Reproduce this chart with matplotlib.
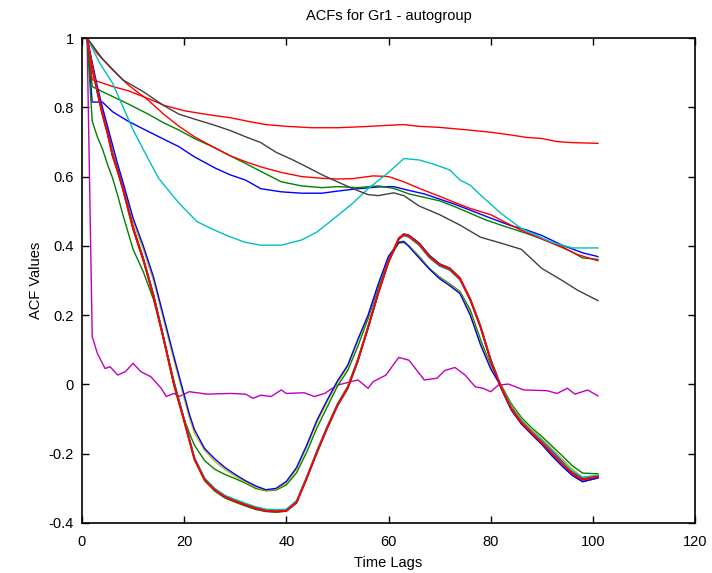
import matplotlib
matplotlib.use("Agg")
import matplotlib.pyplot as plt

plt.rcParams['font.family'] = ['Liberation Sans', 'DejaVu Sans']

# MATLAB classic colour order
C_BLUE = (0, 0, 1)
C_GREEN = (0, 0.5, 0)
C_RED = (1, 0, 0)
C_CYAN = (0, 0.75, 0.75)
C_MAG = (0.75, 0, 0.75)
C_YEL = (0.75, 0.75, 0)
C_GRAY = (0.25, 0.25, 0.25)

title = "ACFs for Gr1 - autogroup"
xlabel = "Time Lags"
ylabel = "ACF Values"
xticks = [0, 20, 40, 60, 80, 100, 120]
yticks = [-0.4, -0.2, 0, 0.2, 0.4, 0.6, 0.8, 1]
ytick_labels = ["-0.4", "-0.2", "0", "0.2", "0.4", "0.6", "0.8", "1"]

# ---- slowly decaying series ----
red_slow_x = [1, 2, 4, 6, 9, 13, 16, 20, 25, 29, 33, 36, 40, 45, 50, 55, 60, 63, 66, 70, 76, 80, 84, 87, 90, 93, 96, 101]
red_slow_y = [1.0, 0.88, 0.87, 0.86, 0.848, 0.825, 0.806, 0.79, 0.778, 0.77, 0.758, 0.75, 0.745, 0.741, 0.741, 0.744,
              0.748, 0.75, 0.745, 0.742, 0.734, 0.728, 0.72, 0.713, 0.71, 0.701, 0.698, 0.696]

red_mid_x = [1, 3, 6, 9, 13, 16, 19, 22, 26, 29, 32, 35, 39, 43, 47, 50, 53, 57, 60, 63, 66, 70, 73, 76, 80, 83, 86, 90, 94, 97, 101]
red_mid_y = [1.0, 0.955, 0.908, 0.865, 0.82, 0.78, 0.745, 0.715, 0.683, 0.66, 0.643, 0.628, 0.612, 0.6, 0.595, 0.593,
             0.594, 0.602, 0.6, 0.585, 0.566, 0.543, 0.525, 0.508, 0.49, 0.467, 0.445, 0.42, 0.395, 0.375, 0.357]

gray_x = [1, 4, 8, 12, 16, 19, 22, 26, 29, 32, 35, 38, 41, 44, 47, 50, 53, 56, 58, 61, 63, 66, 70, 74, 78, 82, 86, 90, 94, 97, 101]
gray_y = [1.0, 0.94, 0.879, 0.845, 0.805, 0.78, 0.766, 0.748, 0.733, 0.715, 0.698, 0.67, 0.65, 0.628, 0.605, 0.585,
          0.565, 0.548, 0.545, 0.553, 0.545, 0.515, 0.49, 0.46, 0.425, 0.408, 0.39, 0.335, 0.3, 0.272, 0.242]

green_slow_x = [1, 2, 4, 6, 9, 13, 16, 19, 22, 26, 29, 32, 35, 39, 43, 47, 50, 54, 58, 61, 64, 67, 70, 73, 76, 79, 83, 87, 90, 94, 98, 101]
green_slow_y = [1.0, 0.86, 0.845, 0.831, 0.81, 0.78, 0.755, 0.734, 0.71, 0.683, 0.66, 0.638, 0.615, 0.585, 0.573, 0.568,
                0.571, 0.568, 0.573, 0.566, 0.55, 0.54, 0.53, 0.513, 0.494, 0.475, 0.455, 0.436, 0.42, 0.398, 0.365, 0.361]

blue_slow_x = [1, 2, 4, 6, 9, 13, 16, 19, 22, 26, 29, 32, 35, 39, 43, 47, 50, 54, 58, 61, 64, 67, 70, 73, 76, 80, 84, 87, 90, 94, 98, 101]
blue_slow_y = [1.0, 0.815, 0.815, 0.787, 0.76, 0.73, 0.708, 0.686, 0.657, 0.625, 0.605, 0.59, 0.565, 0.556, 0.552, 0.552,
               0.558, 0.565, 0.57, 0.571, 0.56, 0.55, 0.535, 0.52, 0.503, 0.48, 0.458, 0.446, 0.43, 0.402, 0.38, 0.369]

cyan_slow_x = [1, 3.5, 6, 8, 10, 13, 15, 19, 22.5, 26, 29, 32, 35, 39, 43, 46, 49, 53, 56, 60, 63, 66, 69, 72, 74, 76, 78,
               82, 86, 89, 92, 96, 98, 101]
cyan_slow_y = [1.0, 0.927, 0.869, 0.802, 0.735, 0.65, 0.595, 0.523, 0.47, 0.445, 0.426, 0.41, 0.402, 0.402, 0.417, 0.44,
               0.475, 0.523, 0.565, 0.612, 0.652, 0.648, 0.635, 0.619, 0.59, 0.575, 0.547, 0.494, 0.45, 0.43, 0.41,
               0.394, 0.394, 0.394]

magenta_x = [1, 2, 3, 4.5, 5.5, 7, 8.5, 10, 11.5, 13.5, 15.5, 16.5, 18, 19, 21, 24.5, 29, 32, 33.5, 35, 37, 39, 40, 43.5,
             45.5, 47.5, 50, 54, 56, 57, 59.5, 62, 64, 67, 69.5, 71, 73, 75, 77, 78.5, 80, 81.5, 83.5, 86.5, 91, 93, 95,
             96.5, 99, 101]
magenta_y = [1.0, 0.138, 0.09, 0.046, 0.051, 0.027, 0.037, 0.061, 0.037, 0.022, -0.011, -0.035, -0.026, -0.035, -0.021,
             -0.028, -0.026, -0.028, -0.04, -0.031, -0.035, -0.016, -0.026, -0.024, -0.035, -0.026, -0.002, 0.013,
             -0.011, 0.008, 0.027, 0.078, 0.07, 0.013, 0.018, 0.04, 0.049, 0.027, -0.007, -0.011, -0.021, -0.002,
             0.001, -0.016, -0.018, -0.026, -0.011, -0.028, -0.016, -0.033]

# ---- oscillating series (shared lag grid) ----
osc_x = [1, 2, 3, 4, 5, 6, 7, 8, 10, 12, 14, 16, 18, 20, 21, 22, 24, 26, 28, 30, 32, 34, 36, 38, 40, 42, 44, 46, 48, 50,
         52, 54, 56, 58, 60, 62, 63, 64, 66, 68, 70, 72, 74, 76, 78, 80, 82, 84, 86, 88, 90, 92, 94, 96, 98, 101]

blue_osc1 = [1.0, 0.93, 0.86, 0.8, 0.745, 0.69, 0.635, 0.585, 0.48, 0.4, 0.31, 0.195, 0.08, -0.03, -0.085, -0.13, -0.185,
             -0.215, -0.24, -0.26, -0.278, -0.293, -0.304, -0.3, -0.28, -0.24, -0.175, -0.103, -0.045, 0.01, 0.055,
             0.13, 0.2, 0.29, 0.37, 0.41, 0.412, 0.398, 0.365, 0.333, 0.305, 0.285, 0.262, 0.2, 0.115, 0.045, -0.005,
             -0.065, -0.105, -0.135, -0.162, -0.192, -0.222, -0.252, -0.275, -0.267]
yellow_osc1 = [1.0, 0.92, 0.85, 0.79, 0.735, 0.68, 0.625, 0.575, 0.47, 0.39, 0.3, 0.185, 0.07, -0.04, -0.095, -0.14, -0.19,
               -0.222, -0.246, -0.265, -0.282, -0.296, -0.306, -0.303, -0.284, -0.245, -0.18, -0.11, -0.05, 0.005,
               0.05, 0.125, 0.198, 0.288, 0.368, 0.412, 0.414, 0.4, 0.368, 0.334, 0.307, 0.288, 0.265, 0.205, 0.12,
               0.05, -0.003, -0.06, -0.1, -0.13, -0.157, -0.186, -0.215, -0.245, -0.268, -0.263]
green_osc1 = [1.0, 0.76, 0.715, 0.68, 0.635, 0.595, 0.545, 0.49, 0.39, 0.325, 0.245, 0.13, 0.01, -0.1, -0.14, -0.175, -0.22,
              -0.245, -0.26, -0.272, -0.285, -0.3, -0.307, -0.305, -0.29, -0.255, -0.195, -0.125, -0.065, -0.005, 0.04,
              0.11, 0.19, 0.28, 0.36, 0.408, 0.41, 0.4, 0.37, 0.335, 0.31, 0.29, 0.268, 0.215, 0.13, 0.055, 0.0,
              -0.055, -0.095, -0.125, -0.15, -0.178, -0.206, -0.235, -0.256, -0.258]

cyan_osc2 = [1.0, 0.915, 0.846, 0.782, 0.727, 0.662, 0.617, 0.567, 0.452, 0.362, 0.257, 0.132, 0.003, -0.1, -0.155, -0.21,
             -0.27, -0.3, -0.32, -0.332, -0.343, -0.353, -0.36, -0.362, -0.36, -0.335, -0.265, -0.19, -0.12, -0.055,
             -0.005, 0.072, 0.168, 0.268, 0.357, 0.42, 0.43, 0.426, 0.402, 0.366, 0.342, 0.33, 0.302, 0.248, 0.17,
             0.073, -0.003, -0.064, -0.105, -0.135, -0.163, -0.195, -0.225, -0.25, -0.268, -0.262]
green_osc2 = [1.0, 0.912, 0.842, 0.777, 0.722, 0.657, 0.612, 0.562, 0.447, 0.357, 0.252, 0.127, -0.003, -0.108, -0.163,
              -0.218, -0.278, -0.308, -0.328, -0.34, -0.351, -0.361, -0.367, -0.369, -0.366, -0.343, -0.272, -0.198,
              -0.128, -0.063, -0.013, 0.066, 0.162, 0.262, 0.352, 0.418, 0.43, 0.425, 0.402, 0.366, 0.342, 0.33,
              0.302, 0.243, 0.165, 0.068, -0.009, -0.072, -0.113, -0.143, -0.172, -0.205, -0.235, -0.262, -0.28, -0.27]
gray_osc2 = [1.0, 0.916, 0.847, 0.782, 0.727, 0.662, 0.617, 0.567, 0.452, 0.362, 0.257, 0.132, 0.002, -0.103, -0.158,
             -0.213, -0.273, -0.303, -0.323, -0.335, -0.346, -0.356, -0.363, -0.365, -0.363, -0.338, -0.268, -0.193,
             -0.123, -0.058, -0.008, 0.072, 0.167, 0.267, 0.358, 0.423, 0.435, 0.431, 0.408, 0.372, 0.348, 0.336,
             0.308, 0.248, 0.17, 0.073, -0.004, -0.066, -0.107, -0.137, -0.165, -0.197, -0.227, -0.254, -0.272, -0.264]
blue_osc2 = [1.0, 0.917, 0.848, 0.784, 0.73, 0.665, 0.62, 0.57, 0.455, 0.365, 0.26, 0.135, 0.004, -0.1, -0.156, -0.212,
             -0.272, -0.303, -0.323, -0.336, -0.347, -0.357, -0.364, -0.366, -0.364, -0.34, -0.27, -0.195, -0.125,
             -0.06, -0.01, 0.068, 0.163, 0.263, 0.353, 0.42, 0.432, 0.43, 0.408, 0.373, 0.348, 0.335, 0.306, 0.246,
             0.166, 0.068, -0.01, -0.073, -0.114, -0.144, -0.173, -0.206, -0.236, -0.263, -0.281, -0.27]
red_osc2 = [1.0, 0.915, 0.845, 0.78, 0.725, 0.66, 0.615, 0.565, 0.45, 0.36, 0.255, 0.13, 0.0, -0.105, -0.16, -0.215,
            -0.275, -0.305, -0.325, -0.337, -0.348, -0.358, -0.365, -0.367, -0.365, -0.34, -0.27, -0.195, -0.125,
            -0.06, -0.01, 0.07, 0.165, 0.265, 0.355, 0.42, 0.432, 0.428, 0.405, 0.369, 0.345, 0.333, 0.305, 0.245,
            0.167, 0.07, -0.007, -0.069, -0.11, -0.14, -0.168, -0.2, -0.23, -0.257, -0.275, -0.266]

fig = plt.figure(figsize=(7.12, 5.73), dpi=100)
ax = fig.add_axes([82 / 712, 50 / 573, 613 / 712, 485 / 573])

lw = 1.0
ax.plot(blue_slow_x, blue_slow_y, color=C_BLUE, lw=lw)
ax.plot(green_slow_x, green_slow_y, color=C_GREEN, lw=lw)
ax.plot(red_slow_x, red_slow_y, color=C_RED, lw=lw)
ax.plot(red_mid_x, red_mid_y, color=C_RED, lw=lw)
ax.plot(cyan_slow_x, cyan_slow_y, color=C_CYAN, lw=lw)
ax.plot(gray_x, gray_y, color=C_GRAY, lw=lw)
ax.plot(magenta_x, magenta_y, color=C_MAG, lw=lw)

ax.plot(osc_x, green_osc1, color=C_GREEN, lw=lw)
ax.plot(osc_x, yellow_osc1, color=C_YEL, lw=lw)
ax.plot(osc_x, blue_osc1, color=C_BLUE, lw=lw)

ax.plot(osc_x, green_osc2, color=C_GREEN, lw=lw)
ax.plot(osc_x, blue_osc2, color=C_BLUE, lw=lw)
ax.plot(osc_x, gray_osc2, color=C_GRAY, lw=lw)
ax.plot(osc_x, cyan_osc2, color=C_CYAN, lw=lw)
ax.plot(osc_x, red_osc2, color=C_RED, lw=lw + 0.4)

ax.set_xlim(0, 120)
ax.set_ylim(-0.4, 1)
ax.set_xticks(xticks)
ax.set_xticklabels([str(t) for t in xticks])
ax.set_yticks(yticks)
ax.set_yticklabels(ytick_labels)

for s in ax.spines.values():
    s.set_linewidth(1.2)
ax.tick_params(direction='in', top=True, right=True, length=5, width=1.0, labelsize=10.5)
ax.tick_params(axis='x', pad=9)
ax.tick_params(axis='y', pad=6)

ax.set_title(title, fontsize=10.5, pad=13)
ax.set_xlabel(xlabel, fontsize=10.5, labelpad=5)
ax.set_ylabel(ylabel, fontsize=10.5, labelpad=4)

fig.savefig("out.png", dpi=100)
